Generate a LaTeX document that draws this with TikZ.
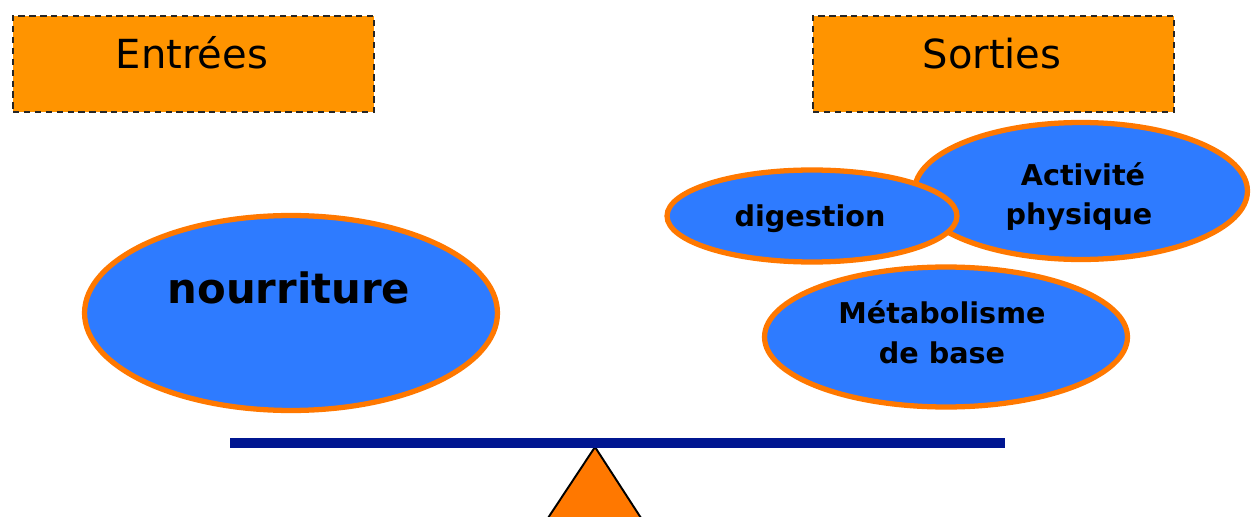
\documentclass[tikz,border=0pt]{standalone}
\usepackage{fontspec}
\setmainfont{DejaVu Sans}
\usetikzlibrary{shapes.geometric}
\definecolor{boxorange}{RGB}{255,148,0}
\definecolor{ringorange}{RGB}{255,120,0}
\definecolor{blobblue}{RGB}{46,123,255}
\definecolor{beamblue}{RGB}{0,22,145}
\tikzset{
  hdrbox/.style={draw=black!85, fill=boxorange, dash pattern=on 3.6pt off 2.6pt, line width=1.3pt, inner sep=0pt, minimum width=7.22cm, minimum height=1.92cm},
  blob/.style={ellipse, draw=ringorange, fill=blobblue, line width=3pt, inner sep=0pt},
  hdrtext/.style={anchor=base, font=\fontsize{22.8}{27}\selectfont, text=black, inner sep=0pt},
  blobtext/.style={anchor=base, font=\fontsize{16.3}{20}\selectfont\bfseries, text=black, inner sep=0pt},
  bigtext/.style={anchor=base, font=\fontsize{23.8}{28}\selectfont\bfseries, text=black, inner sep=0pt},
  beam/.style={draw=beamblue, line width=5.7pt},
  fulcrum/.style={draw=black, fill=ringorange, line width=1.1pt, line join=miter}
}
\begin{document}
\begin{tikzpicture}[x=0.02cm,y=-0.02cm]
\useasboundingbox (0,0) rectangle (1251,517);
% header boxes
\node[hdrbox] (ent) at (193.5,64) {};
\node[hdrtext] (entT) at (192,68.5) {Entrées};
\node[hdrbox] (sor) at (993.5,64) {};
\node[hdrtext] (sorT) at (992,68.5) {Sorties};
% left blob
\node[blob, minimum width=8.26cm, minimum height=3.9cm] (nour) at (291,313) {};
\node[bigtext] (nourT) at (289,303) {nourriture};
% right blobs
\node[blob, minimum width=6.66cm, minimum height=2.74cm] (act) at (1081,191) {};
\node[blobtext] (actA) at (1083,185) {Activité};
\node[blobtext] (actB) at (1079,224) {physique};
\node[blob, minimum width=5.8cm, minimum height=1.84cm] (dig) at (812,216) {};
\node[blobtext] (digT) at (810,226) {digestion};
\node[blob, minimum width=7.26cm, minimum height=2.8cm] (met) at (946,337) {};
\node[blobtext] (metA) at (942,323) {Métabolisme};
\node[blobtext] (metB) at (942,363) {de base};
% balance
\coordinate (apex) at (595,447);
\coordinate (tl) at (548,518);
\coordinate (tr) at (641,518);
\draw[fulcrum] (apex) -- (tl) -- (tr) -- cycle;
\coordinate (bl) at (230,443);
\coordinate (br) at (1005,443);
\draw[beam] (bl) -- (br);
\end{tikzpicture}
\end{document}
